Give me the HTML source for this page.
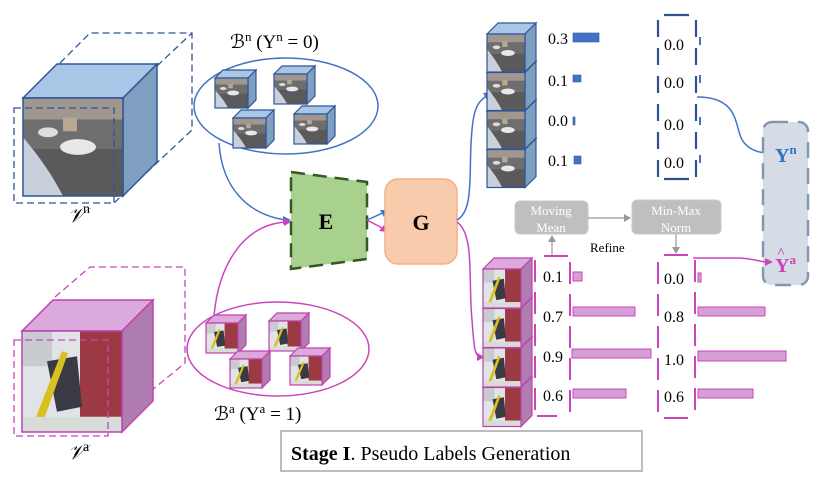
<!DOCTYPE html>
<html><head><meta charset="utf-8"><style>
html,body{margin:0;padding:0;background:#fff;}
svg{display:block;}
text{font-family:"Liberation Serif",serif;}
</style></head><body>
<svg id="s" width="819" height="479" viewBox="0 0 819 479" xmlns="http://www.w3.org/2000/svg">
<defs>
<symbol id="imn" viewBox="0 0 100 100" preserveAspectRatio="none">
<rect width="100" height="100" fill="#5a5a5a"/>
<rect width="100" height="22" fill="#a09890"/>
<rect y="22" width="100" height="30" fill="#6e6e6e"/>
<ellipse cx="55" cy="50" rx="18" ry="8" fill="#e8e8e8"/>
<ellipse cx="25" cy="35" rx="10" ry="5" fill="#ddd"/>
<path d="M0 40 Q25 70 40 100 L0 100Z" fill="#c8d0dc"/>
<rect x="40" y="20" width="14" height="14" fill="#b8a890"/>
</symbol>
<symbol id="ima" viewBox="0 0 100 100" preserveAspectRatio="none">
<rect width="100" height="100" fill="#e0e4e6"/>
<rect x="58" width="42" height="85" fill="#9c3a44"/>
<rect x="0" y="0" width="30" height="35" fill="#c8ccd0"/>
<path d="M25 30 L55 25 L60 75 L35 80Z" fill="#3a3a44"/>
<path d="M10 95 L40 20 L46 22 L18 98Z" fill="#d8c020"/>
<rect x="0" y="85" width="100" height="15" fill="#d8dcd8"/>
</symbol>
</defs>
<g id="g"></g>
</svg>
<script>
var g=document.getElementById('g'),h='';
function cube(x,y,w,hh,d,top,side,stroke,img,sw){
 h+='<polygon points="'+x+','+y+' '+(x+d)+','+(y-d)+' '+(x+w+d)+','+(y-d)+' '+(x+w)+','+y+'" fill="'+top+'" stroke="'+stroke+'" stroke-width="'+sw+'"/>';
 h+='<polygon points="'+(x+w)+','+y+' '+(x+w+d)+','+(y-d)+' '+(x+w+d)+','+(y+hh-d)+' '+(x+w)+','+(y+hh)+'" fill="'+side+'" stroke="'+stroke+'" stroke-width="'+sw+'"/>';
 h+='<use href="#'+img+'" x="'+x+'" y="'+y+'" width="'+w+'" height="'+hh+'"/>';
 h+='<rect x="'+x+'" y="'+y+'" width="'+w+'" height="'+hh+'" fill="none" stroke="'+stroke+'" stroke-width="'+sw+'"/>';
}
var B='#4472c4',BL='#2f528f',P='#cc44bb';
// Vn cube
h+='<path d="M60 63 L90 33 L192 33 L192 130 L114 203" fill="none" stroke="#2f5597" stroke-width="1.3" stroke-dasharray="7,4"/>';
h+='<line x1="157" y1="66" x2="192" y2="33" stroke="#2f5597" stroke-width="1.3" stroke-dasharray="7,4"/>';
cube(23,98,100,98,34,'#a9c6e6','#7f9fc0','#2f5597','imn',1.5);
h+='<rect x="14" y="108" width="100" height="95" fill="none" stroke="#2f5597" stroke-width="1.3" stroke-dasharray="7,4"/>';
h+='<text x="68" y="222" font-size="20" font-style="italic">𝒱</text><text x="83" y="213" font-size="14">n</text>';
// Va cube
h+='<path d="M55 297 L90 267 L185 267 L185 363 L152 390" fill="none" stroke="'+P+'" stroke-width="1.3" stroke-dasharray="7,4"/>';
cube(22,331,100,101,31,'#dca9dc','#b07db0','#c040b0','ima',1.5);
h+='<rect x="14" y="340" width="94" height="96" fill="none" stroke="'+P+'" stroke-width="1.3" stroke-dasharray="7,4"/>';
h+='<text x="68" y="459" font-size="20" font-style="italic">𝒱</text><text x="83" y="451" font-size="14">a</text>';
// Bn ellipse
h+='<ellipse cx="286" cy="106" rx="92" ry="48" fill="none" stroke="'+B+'" stroke-width="1.5"/>';
cube(215,78,33,30,8,'#a9c6e6','#7f9fc0','#2f5597','imn',1.2);
cube(274,74,33,30,8,'#a9c6e6','#7f9fc0','#2f5597','imn',1.2);
cube(233,118,33,30,8,'#a9c6e6','#7f9fc0','#2f5597','imn',1.2);
cube(294,114,33,30,8,'#a9c6e6','#7f9fc0','#2f5597','imn',1.2);
h+='<text x="230" y="48" font-size="19">ℬ<tspan font-size="13" dy="-7">n</tspan><tspan dy="7"> (Y</tspan><tspan font-size="13" dy="-7">n</tspan><tspan dy="7"> = 0)</tspan></text>';
// Ba ellipse
h+='<ellipse cx="278" cy="349" rx="91" ry="47" fill="none" stroke="'+P+'" stroke-width="1.5"/>';
cube(206,323,32,30,8,'#dca9dc','#b07db0','#c040b0','ima',1.2);
cube(269,321,32,30,8,'#dca9dc','#b07db0','#c040b0','ima',1.2);
cube(230,359,32,29,8,'#dca9dc','#b07db0','#c040b0','ima',1.2);
cube(290,356,32,29,8,'#dca9dc','#b07db0','#c040b0','ima',1.2);
h+='<text x="214" y="420" font-size="19">ℬ<tspan font-size="13" dy="-7">a</tspan><tspan dy="7"> (Y</tspan><tspan font-size="13" dy="-7">a</tspan><tspan dy="7"> = 1)</tspan></text>';
// connectors to E
h+='<path d="M219 143 C222 190 250 215 286 220" fill="none" stroke="'+B+'" stroke-width="1.5"/><polygon points="291,220 283,216 283,224" fill="'+B+'"/>';
h+='<path d="M214 316 C218 270 240 225 286 222" fill="none" stroke="'+P+'" stroke-width="1.5"/><polygon points="291,222 283,218 284,226" fill="'+P+'"/>';
// E
h+='<polygon points="291,172 367,182 367,259 291,269" fill="#a9d18e" stroke="#375623" stroke-width="2.5" stroke-dasharray="14,8"/>';
h+='<text x="326" y="229" font-size="22" font-weight="bold" text-anchor="middle">E</text>';
// E->G
h+='<line x1="367" y1="220" x2="385" y2="212" stroke="'+B+'" stroke-width="1.5"/><polygon points="389,210 380,210 384,217" fill="'+B+'"/>';
h+='<line x1="367" y1="220" x2="384" y2="229" stroke="'+P+'" stroke-width="1.5"/><polygon points="388,232 379,231 384,225" fill="'+P+'"/>';
// G
h+='<rect x="385" y="179" width="72" height="85" rx="13" fill="#f8cbad" stroke="#f4b183" stroke-width="1.5"/>';
h+='<text x="421" y="230" font-size="22" font-weight="bold" text-anchor="middle">G</text>';
// G outputs
h+='<path d="M457 220 C475 210 468 170 472 130 C474 105 480 100 488 95" fill="none" stroke="'+B+'" stroke-width="1.5"/><polygon points="492,92 483,93 487,100" fill="'+B+'"/>';
h+='<path d="M457 222 C475 235 468 280 472 320 C474 345 474 355 480 357" fill="none" stroke="'+P+'" stroke-width="1.5"/><polygon points="485,357 477,353 477,361" fill="'+P+'"/>';
// normal stack
for(var i=3;i>=0;i--)cube(487,34+i*38.5,38,38,11,'#a9c6e6','#7f9fc0','#2f5597','imn',1.2);
var nv=['0.3','0.1','0.0','0.1'],ny=[44,86,126,166],nb=[[573,33,26,9],[573,75,8,7],[573,117,2,8],[574,156,7,8]];
for(i=0;i<4;i++){h+='<text x="548" y="'+ny[i]+'" font-size="16">'+nv[i]+'</text>';h+='<rect x="'+nb[i][0]+'" y="'+nb[i][1]+'" width="'+nb[i][2]+'" height="'+nb[i][3]+'" fill="'+B+'" stroke="#2f5597" stroke-width="0.6"/>';}
// blue dashed bracket
h+='<line x1="658" y1="20" x2="658" y2="180" stroke="'+BL+'" stroke-width="2.2" stroke-dasharray="17,11"/>';
h+='<line x1="696" y1="20" x2="696" y2="180" stroke="'+BL+'" stroke-width="2.2" stroke-dasharray="17,11"/>';
h+='<line x1="664" y1="15" x2="689" y2="15" stroke="'+BL+'" stroke-width="2.2"/><line x1="664" y1="179" x2="689" y2="179" stroke="'+BL+'" stroke-width="2.2"/>';
var by=[50,88,130,168];
for(i=0;i<4;i++){h+='<text x="664" y="'+by[i]+'" font-size="16">0.0</text><rect x="699" y="'+(by[i]-13)+'" width="2" height="8" fill="'+B+'"/>';}
h+='<path d="M697 97 C735 97 735 120 740 135 C745 150 760 153 768 153" fill="none" stroke="'+B+'" stroke-width="1.5"/><polygon points="773,153 765,149 765,157" fill="'+B+'"/>';
// Y box
h+='<rect x="763" y="122" width="45" height="163" rx="9" fill="#d6dce5" stroke="#8497b0" stroke-width="2.5" stroke-dasharray="16,10"/>';
h+='<text x="775" y="162" font-size="20" font-weight="bold" fill="#2e75c6">Y<tspan font-size="13" dy="-8">n</tspan></text>';
h+='<text x="775" y="272" font-size="20" font-weight="bold" fill="#cc44bb">Y<tspan font-size="13" dy="-8">a</tspan></text>';
h+='<text x="777" y="257" font-size="14" font-weight="bold" fill="#cc44bb">^</text>';
// Moving mean / min-max
h+='<rect x="515" y="201" width="73" height="33" rx="5" fill="#bfbfbf" stroke="#c9c9c9"/>';
h+='<text x="551" y="215" font-size="13" fill="#fff" text-anchor="middle">Moving</text><text x="551" y="232" font-size="13" fill="#fff" text-anchor="middle">Mean</text>';
h+='<rect x="632" y="200" width="89" height="34" rx="5" fill="#bfbfbf" stroke="#c9c9c9"/>';
h+='<text x="676" y="215" font-size="13" fill="#fff" text-anchor="middle">Min-Max</text><text x="676" y="232" font-size="13" fill="#fff" text-anchor="middle">Norm</text>';
h+='<line x1="588" y1="218" x2="626" y2="218" stroke="#999" stroke-width="1.2"/><polygon points="631,218 624,214 624,222" fill="#999"/>';
h+='<line x1="552" y1="256" x2="552" y2="240" stroke="#999" stroke-width="1.2"/><polygon points="552,235 548,242 556,242" fill="#999"/>';
h+='<line x1="676" y1="234" x2="676" y2="249" stroke="#999" stroke-width="1.2"/><polygon points="676,254 672,247 680,247" fill="#999"/>';
h+='<text x="590" y="252" font-size="13">Refine</text>';
// anomaly stack
for(i=3;i>=0;i--)cube(483,269+i*39.5,38,39,11,'#dca9dc','#b07db0','#c040b0','ima',1.2);
var av=['0.1','0.7','0.9','0.6'],ay=[282,322,362,401],ab=[[573,272,9,9],[573,307,62,9],[572,349,79,9],[573,389,53,9]];
for(i=0;i<4;i++){h+='<text x="543" y="'+ay[i]+'" font-size="16">'+av[i]+'</text><rect x="'+ab[i][0]+'" y="'+ab[i][1]+'" width="'+ab[i][2]+'" height="'+ab[i][3]+'" fill="#d69fd6" stroke="'+P+'" stroke-width="1"/>';}
h+='<line x1="535" y1="260" x2="535" y2="417" stroke="'+P+'" stroke-width="2" stroke-dasharray="22,10"/>';
h+='<line x1="570" y1="262" x2="570" y2="417" stroke="'+P+'" stroke-width="2" stroke-dasharray="22,10"/>';
h+='<line x1="544" y1="256" x2="568" y2="256" stroke="'+P+'" stroke-width="2"/><line x1="537" y1="416" x2="557" y2="416" stroke="'+P+'" stroke-width="2"/>';
var mv=['0.0','0.8','1.0','0.6'],my=[284,322,365,402],mb=[[698,273,3,9],[698,307,67,9],[698,351,88,10],[698,389,55,9]];
for(i=0;i<4;i++){h+='<text x="664" y="'+my[i]+'" font-size="16">'+mv[i]+'</text><rect x="'+mb[i][0]+'" y="'+mb[i][1]+'" width="'+mb[i][2]+'" height="'+mb[i][3]+'" fill="#d69fd6" stroke="'+P+'" stroke-width="1"/>';}
h+='<line x1="658" y1="262" x2="658" y2="418" stroke="'+P+'" stroke-width="2" stroke-dasharray="22,10"/>';
h+='<line x1="695" y1="260" x2="695" y2="418" stroke="'+P+'" stroke-width="2" stroke-dasharray="22,10"/>';
h+='<line x1="664" y1="255" x2="688" y2="255" stroke="'+P+'" stroke-width="2"/><line x1="664" y1="418" x2="688" y2="418" stroke="'+P+'" stroke-width="2"/>';
h+='<path d="M693 258 L740 258 C755 259 760 262 768 262" fill="none" stroke="'+P+'" stroke-width="1.5"/><polygon points="773,262 765,258 765,266" fill="'+P+'"/>';
// stage box
h+='<rect x="281" y="431" width="361" height="40" fill="#fff" stroke="#bdbdbd" stroke-width="2"/>';
h+='<text x="291" y="460" font-size="20"><tspan font-weight="bold">Stage I</tspan>. Pseudo Labels Generation</text>';
g.innerHTML=h;
</script>
</body></html>
